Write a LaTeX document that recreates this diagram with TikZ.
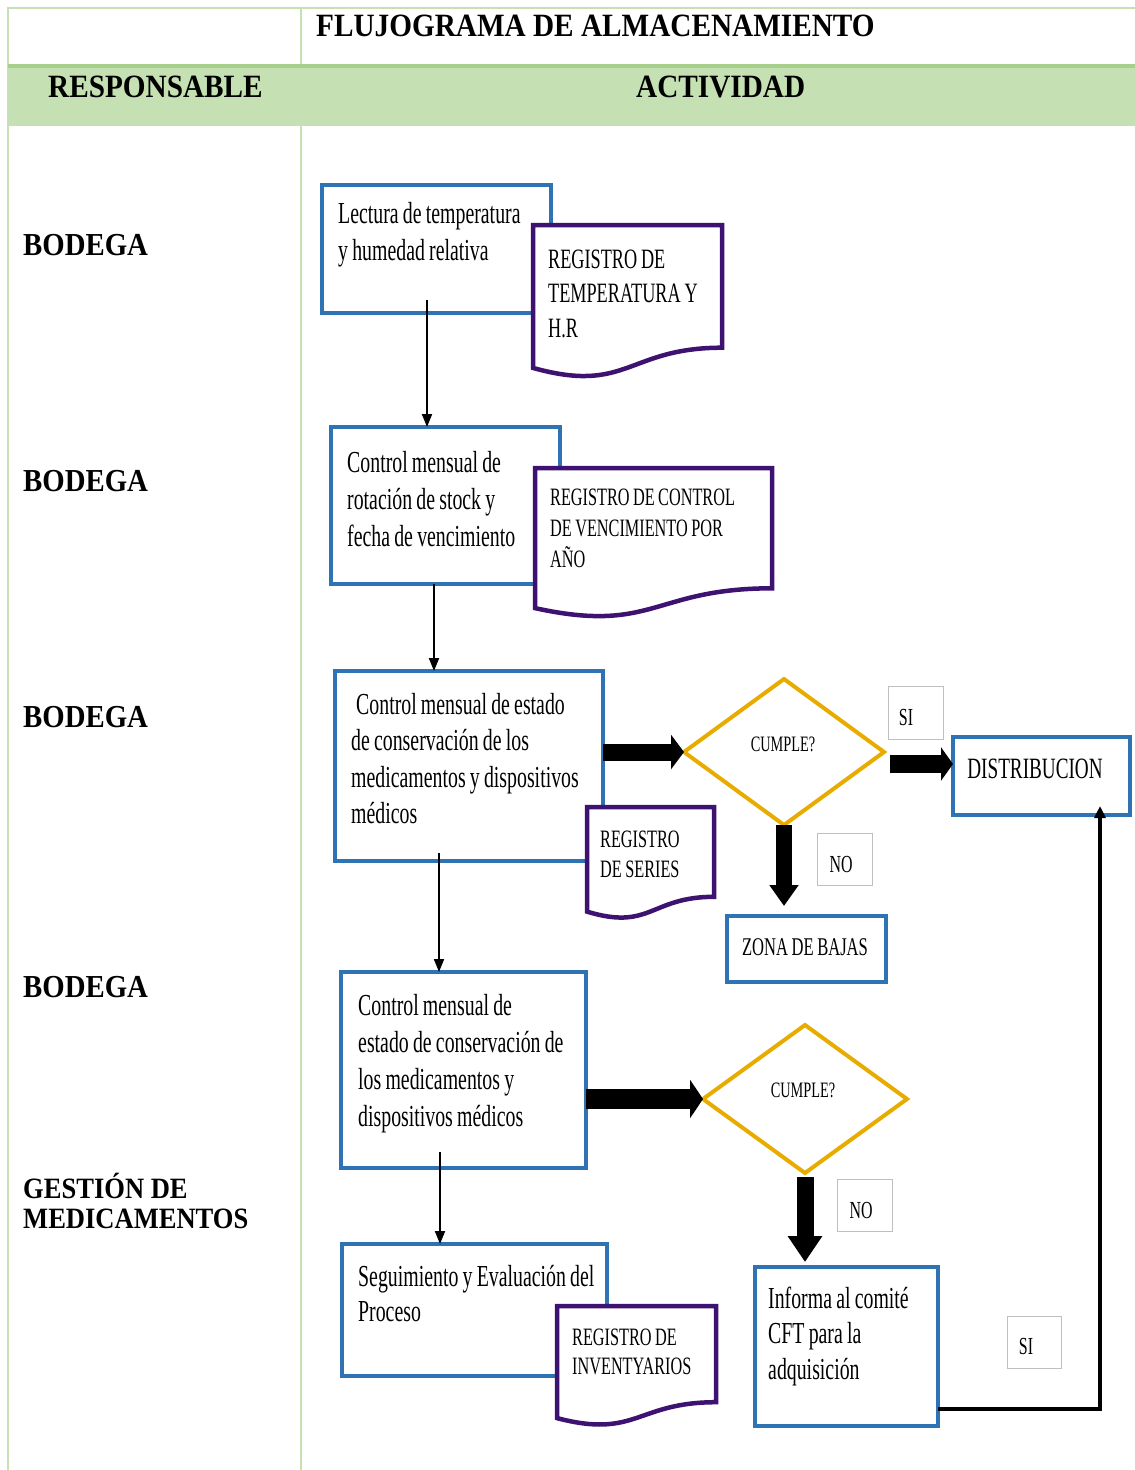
\documentclass[tikz,border=0pt]{standalone}
\usepackage{fontspec}
\setmainfont{Liberation Serif}
\newfontfamily\cnd[FakeStretch=0.65, WordSpace=0.85]{Liberation Serif}
\newfontfamily\hdf[FakeStretch=0.9]{Liberation Serif}
\usetikzlibrary{shapes.geometric,arrows.meta,calc}

\definecolor{tgreen}{RGB}{197,224,179}
\definecolor{tgreendk}{RGB}{168,208,141}
\definecolor{pblue}{RGB}{46,116,181}
\definecolor{dpurple}{RGB}{62,18,112}
\definecolor{dgold}{RGB}{232,172,0}

\tikzset{
  tline/.style={draw=tgreen, line width=2pt},
  procbox/.style={rectangle, draw=pblue, line width=4.5pt, fill=white, anchor=north west, inner sep=0pt, outer sep=0pt},
  docline/.style={draw=dpurple, line width=4.5pt, fill=white, line join=miter},
  decision/.style={diamond, draw=dgold, line width=4pt, fill=white, inner sep=0pt, outer sep=0pt},
  tagbox/.style={rectangle, draw=black!25, line width=1.2pt, fill=white, anchor=north west, inner sep=0pt},
  stepline/.style={draw=black, line width=2pt, -{Triangle[length=13pt,width=10pt]}},
  retline/.style={draw=black, line width=4pt, line join=miter, -{Triangle[length=12pt,width=11pt]}},
  plainspace/.style={execute at begin node={\spaceskip=0pt\xspaceskip=0pt\relax}},
  boxtext/.style={anchor=base west, inner sep=0pt, text width=320pt, align=flush left, plainspace, font=\cnd\fontsize{30.5pt}{37pt}\selectfont},
  doctext/.style={anchor=base west, inner sep=0pt, text width=320pt, align=flush left, plainspace, font=\cnd\fontsize{25pt}{30.5pt}\selectfont},
  smalltext/.style={anchor=base, inner sep=0pt, font=\cnd\fontsize{24.5pt}{28pt}\selectfont},
  headtext/.style={anchor=base west, inner sep=0pt, font=\hdf\bfseries\fontsize{32.5pt}{36pt}\selectfont},
  roletext/.style={anchor=base west, inner sep=0pt, text width=280pt, align=flush left, plainspace, font=\hdf\bfseries\fontsize{32pt}{36pt}\selectfont},
}

\begin{document}
\begin{tikzpicture}[x=1pt, y=-1pt]
\useasboundingbox (0,0) rectangle (1135,1470);

% ---- table frame ----
\fill[tgreen] (8,66) rectangle (1135,126);
\draw[tline] (8,1470) -- (8,8) -- (1135,8);
\draw[tline] (301,8) -- (301,66);
\draw[tline] (301,126) -- (301,1470);
\draw[draw=tgreendk, line width=3.5pt] (8,66) -- (1135,66);

\node[headtext] (title) at (316,36) {FLUJOGRAMA DE ALMACENAMIENTO};
\node[headtext] (hresp) at (48,97) {RESPONSABLE};
\node[headtext] (hact) at (636,97) {ACTIVIDAD};

\node[roletext] (r1) at (23,255) {BODEGA};
\node[roletext] (r2) at (23,491) {BODEGA};
\node[roletext] (r3) at (23,727) {BODEGA};
\node[roletext] (r4) at (23,997) {BODEGA};
\node[roletext, font=\hdf\bfseries\fontsize{29.5pt}{30pt}\selectfont] (r5) at (23,1198) {GESTIÓN DE\\MEDICAMENTOS};

% ---- process boxes ----
\node[procbox, minimum width=229pt, minimum height=128pt] (b1) at (322,185) {};
\node[procbox, minimum width=229pt, minimum height=157pt] (b2) at (331,427) {};
\node[procbox, minimum width=268pt, minimum height=190pt] (b3) at (335,671) {};
\node[procbox, minimum width=245pt, minimum height=196pt] (b4) at (341,972) {};
\node[procbox, minimum width=265pt, minimum height=132pt] (b5) at (342,1244) {};
\node[procbox, minimum width=183pt, minimum height=159pt] (b6) at (755,1267) {};
\node[procbox, minimum width=177pt, minimum height=78pt] (dist) at (953,737) {};
\node[procbox, minimum width=159pt, minimum height=66pt] (zona) at (727,916) {};

\node[boxtext] (t1) at (338,223) {Lectura de temperatura\\y humedad relativa};
\node[boxtext] (t2) at (347,472) {Control mensual de\\rotación de stock y\\fecha de vencimiento};
\node[boxtext, font=\cnd\fontsize{30.5pt}{36.5pt}\selectfont] (t3) at (351,714) {\hspace*{5pt}Control mensual de estado\\de conservación de los\\medicamentos y dispositivos\\médicos};
\node[boxtext] (t4) at (358,1015) {Control mensual de\\estado de conservación de\\los medicamentos y\\dispositivos médicos};
\node[boxtext, font=\cnd\fontsize{30.5pt}{35pt}\selectfont] (t5) at (358,1286) {Seguimiento y Evaluación del\\Proceso};
\node[boxtext, font=\cnd\fontsize{30.5pt}{35.5pt}\selectfont] (t6) at (768,1308) {Informa al comité\\CFT para la\\adquisición};

\node[smalltext, font=\cnd\fontsize{29.5pt}{30pt}\selectfont] (tdist) at (1035,778) {DISTRIBUCION};
\node[smalltext, font=\cnd\fontsize{25.5pt}{30pt}\selectfont] (tzona) at (805,955) {ZONA DE BAJAS};

% ---- documents ----
\draw[docline] (533,225) -- (722,225) -- (722,347.7)
  .. controls (627.5,347.7) and (627.5,394.4) .. (533,367.9) -- cycle;
\node[doctext, font=\cnd\fontsize{28pt}{34.5pt}\selectfont] (dt1) at (548,268) {REGISTRO DE\\TEMPERATURA Y\\H.R};

\draw[docline] (535,468) -- (772,468) -- (772,588.3)
  .. controls (653.5,588.3) and (653.5,634.1) .. (535,608.1) -- cycle;
\node[doctext, font=\cnd\fontsize{25pt}{31pt}\selectfont] (dt2) at (550,505) {REGISTRO DE CONTROL\\DE VENCIMIENTO POR\\AÑO};

\draw[docline] (587,807) -- (714,807) -- (714,896.8)
  .. controls (650.5,896.8) and (650.5,931.0) .. (587,911.6) -- cycle;
\node[doctext, font=\cnd\fontsize{25pt}{30pt}\selectfont] (dt3) at (600,847) {REGISTRO\\DE SERIES};

\draw[docline] (557,1306) -- (716,1306) -- (716,1402.2)
  .. controls (636.5,1402.2) and (636.5,1438.9) .. (557,1418.1) -- cycle;
\node[doctext, font=\cnd\fontsize{25pt}{29pt}\selectfont] (dt4) at (572,1345) {REGISTRO DE\\INVENTYARIOS};

% ---- decisions ----
\node[decision, minimum width=200pt, minimum height=146pt] (d1) at (784,752) {};
\node[smalltext, font=\cnd\fontsize{22pt}{24pt}\selectfont] (q1) at (783,751) {CUMPLE?};
\node[decision, minimum width=204pt, minimum height=148pt] (d2) at (805,1099) {};
\node[smalltext, font=\cnd\fontsize{22pt}{24pt}\selectfont] (q2) at (803,1097) {CUMPLE?};

% ---- answer tags ----
\node[tagbox, minimum width=55pt, minimum height=53pt] (si1) at (888,686) {};
\node[smalltext] (tsi1) at (906,725) {SI};
\node[tagbox, minimum width=55pt, minimum height=52pt] (no1) at (817,833) {};
\node[smalltext] (tno1) at (841,872) {NO};
\node[tagbox, minimum width=55pt, minimum height=52pt] (no2) at (837,1179) {};
\node[smalltext] (tno2) at (861,1218) {NO};
\node[tagbox, minimum width=54pt, minimum height=52pt] (si2) at (1007,1316) {};
\node[smalltext] (tsi2) at (1026,1354) {SI};

% ---- thin sequence arrows ----
\draw[stepline] ([shift={(-9.5pt,13pt)}]b1.south) coordinate (s1) -- (s1 |- b2.north);
\draw[stepline] ([xshift=-11.5pt]b2.south) coordinate (s2) -- (s2 |- b3.north);
\draw[stepline] ([shift={(-30pt,8pt)}]b3.south) coordinate (s3) -- (s3 |- b4.north);
\draw[stepline] ([shift={(-23.5pt,16pt)}]b4.south) coordinate (s4) -- (s4 |- b5.north);

% ---- block arrows ----
\draw[line width=17pt, -{Triangle[length=13pt,width=34pt]}] (b3.east |- d1.west) -- (d1.west);
\draw[line width=18pt, -{Triangle[length=12pt,width=33pt]}] ([shift={(6pt,-12pt)}]d1.east) coordinate (e1) -- (e1 -| dist.west);
\draw[line width=16pt, -{Triangle[length=21pt,width=28pt]}] (d1.south) -- ([yshift=10pt]d1.south |- zona.north);
\draw[line width=20pt, -{Triangle[length=13pt,width=38pt]}] (b4.east |- d2.west) -- (d2.west);
\draw[line width=17pt, -{Triangle[length=26pt,width=33pt]}] ([yshift=-4pt]d2.south) -- ([yshift=5pt]d2.south |- b6.north);

% ---- return path to distribution ----
\draw[retline] ([yshift=-62.5pt]b6.east) -| ([shift={(58.5pt,9pt)}]dist.south);

\end{tikzpicture}
\end{document}
